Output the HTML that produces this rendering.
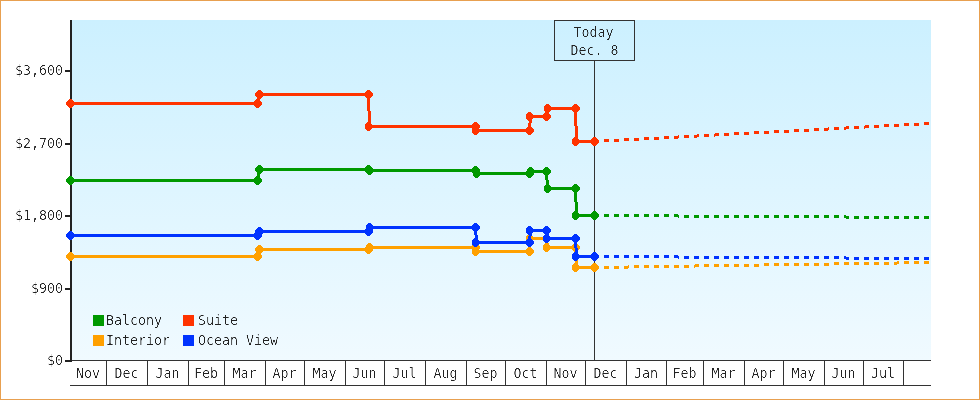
<!DOCTYPE html>
<html><head><meta charset="utf-8"><title>Price history</title>
<style>
html,body{margin:0;padding:0;background:#fff;}
body{width:980px;height:400px;overflow:hidden;}
svg{display:block;}
text{font-family:'DejaVu Sans Mono','Liberation Mono',monospace;font-size:13.3px;fill:#222;}
</style></head><body>
<svg width="980" height="400" viewBox="0 0 980 400">
<defs><filter id="crisp" color-interpolation-filters="sRGB"><feComponentTransfer><feFuncA type="linear" slope="2.5" intercept="-1.1"/></feComponentTransfer></filter><linearGradient id="bg" x1="0" y1="0" x2="0" y2="1"><stop offset="0" stop-color="#CCF0FF"/><stop offset="1" stop-color="#F0FAFF"/></linearGradient></defs>
<rect x="0" y="0" width="980" height="400" fill="#fff"/>
<rect x="0.5" y="0.5" width="979" height="399" fill="none" stroke="#E8A050" stroke-width="1"/>
<rect x="72" y="20" width="859" height="340" fill="url(#bg)"/>

<g stroke="#333" stroke-width="1" shape-rendering="crispEdges">
<line x1="70" y1="360.5" x2="931" y2="360.5"/>
<line x1="70" y1="385.5" x2="931" y2="385.5"/>
<line x1="106.5" y1="360" x2="106.5" y2="386"/>
<line x1="147.5" y1="360" x2="147.5" y2="386"/>
<line x1="188.5" y1="360" x2="188.5" y2="386"/>
<line x1="224.5" y1="360" x2="224.5" y2="386"/>
<line x1="265.5" y1="360" x2="265.5" y2="386"/>
<line x1="304.5" y1="360" x2="304.5" y2="386"/>
<line x1="345.5" y1="360" x2="345.5" y2="386"/>
<line x1="384.5" y1="360" x2="384.5" y2="386"/>
<line x1="425.5" y1="360" x2="425.5" y2="386"/>
<line x1="466.5" y1="360" x2="466.5" y2="386"/>
<line x1="505.5" y1="360" x2="505.5" y2="386"/>
<line x1="546.5" y1="360" x2="546.5" y2="386"/>
<line x1="585.5" y1="360" x2="585.5" y2="386"/>
<line x1="626.5" y1="360" x2="626.5" y2="386"/>
<line x1="666.5" y1="360" x2="666.5" y2="386"/>
<line x1="703.5" y1="360" x2="703.5" y2="386"/>
<line x1="744.5" y1="360" x2="744.5" y2="386"/>
<line x1="783.5" y1="360" x2="783.5" y2="386"/>
<line x1="824.5" y1="360" x2="824.5" y2="386"/>
<line x1="863.5" y1="360" x2="863.5" y2="386"/>
<line x1="903.5" y1="360" x2="903.5" y2="386"/>
</g>
<g fill="#222" shape-rendering="crispEdges">
<rect x="70" y="20" width="2" height="342"/>
<rect x="65" y="70" width="6" height="2"/>
<rect x="65" y="143" width="6" height="2"/>
<rect x="65" y="215" width="6" height="2"/>
<rect x="65" y="288" width="6" height="2"/>
<rect x="65" y="360" width="6" height="2"/>
</g>
<g shape-rendering="crispEdges"><line x1="594.5" y1="60" x2="594.5" y2="360" stroke="#333" stroke-width="1"/>
<rect x="554.5" y="20.5" width="80" height="40" fill="none" stroke="#333" stroke-width="1"/></g>
<path fill="#FFA000" shape-rendering="crispEdges" d="M594 266h5v3h-5zM604 266h5v3h-5zM614 266h5v3h-5zM624 266h4v3h-4zM628 265h1v3h-1zM634 265h5v3h-5zM644 265h5v3h-5zM654 265h5v3h-5zM664 265h5v3h-5zM674 265h5v3h-5zM684 265h5v3h-5zM694 265h1v3h-1zM695 264h4v3h-4zM704 264h5v3h-5zM714 264h5v3h-5zM724 264h5v3h-5zM734 264h5v3h-5zM744 264h5v3h-5zM754 264h5v3h-5zM764 263h5v3h-5zM774 263h5v3h-5zM784 263h5v3h-5zM794 263h5v3h-5zM804 263h5v3h-5zM814 263h5v3h-5zM824 263h5v3h-5zM834 262h5v3h-5zM844 262h5v3h-5zM854 262h5v3h-5zM864 262h5v3h-5zM874 262h5v3h-5zM884 262h5v3h-5zM894 262h3v3h-3zM897 261h2v3h-2zM904 261h5v3h-5zM914 261h5v3h-5zM924 261h5v3h-5z"/>
<polyline points="70.5,256.5 257.5,256.5 259.5,249.5 368.5,249.5 369.5,247.5 475.5,247.5 476.5,251.5 529.5,251.5 530.5,238.5 546.5,238.5 547.5,247.5 575.5,247.5 576.5,267.5 594.5,267.5" fill="none" stroke="#FFA000" stroke-width="3" stroke-linejoin="miter" shape-rendering="crispEdges"/>
<path fill="#FFA000" shape-rendering="crispEdges" d="M69 252H72V253H73V254H74V255H74V258H74V259H73V260H72V261H69V260H68V259H67V258H66V255H67V254H68V253H69ZM256 252H259V253H260V254H261V255H262V258H261V259H260V260H259V261H256V260H255V259H254V258H254V255H254V254H255V253H256ZM258 245H261V246H262V247H263V248H263V251H263V252H262V253H261V254H258V253H257V252H256V251H255V248H256V247H257V246H258ZM367 245H370V246H371V247H372V248H373V251H372V252H371V253H370V254H367V253H366V252H365V251H365V248H365V247H366V246H367ZM368 243H371V244H372V245H373V246H374V249H373V250H372V251H371V252H368V251H367V250H366V249H366V246H366V245H367V244H368ZM474 243H477V244H478V245H479V246H480V249H479V250H478V251H477V252H474V251H473V250H472V249H472V246H472V245H473V244H474ZM474 247H477V248H478V249H479V250H480V253H479V254H478V255H477V256H474V255H473V254H472V253H472V250H472V249H473V248H474ZM528 247H531V248H532V249H533V250H534V253H533V254H532V255H531V256H528V255H527V254H526V253H526V250H526V249H527V248H528ZM528 234H531V235H532V236H533V237H534V240H533V241H532V242H531V243H528V242H527V241H526V240H526V237H526V236H527V235H528ZM545 234H548V235H549V236H550V237H551V240H550V241H549V242H548V243H545V242H544V241H543V240H543V237H543V236H544V235H545ZM545 243H548V244H549V245H550V246H551V249H550V250H549V251H548V252H545V251H544V250H543V249H543V246H543V245H544V244H545ZM574 243H577V244H578V245H579V246H580V249H579V250H578V251H577V252H574V251H573V250H572V249H572V246H572V245H573V244H574ZM574 263H577V264H578V265H579V266H580V269H579V270H578V271H577V272H574V271H573V270H572V269H572V266H572V265H573V264H574ZM593 263H596V264H597V265H598V266H599V269H598V270H597V271H596V272H593V271H592V270H591V269H591V266H591V265H592V264H593Z"/>
<path fill="#0033FF" shape-rendering="crispEdges" d="M594 255h5v3h-5zM604 255h5v3h-5zM614 255h5v3h-5zM624 255h5v3h-5zM634 255h5v3h-5zM644 255h5v3h-5zM654 255h5v3h-5zM664 255h5v3h-5zM674 255h4v3h-4zM678 256h1v3h-1zM684 256h5v3h-5zM694 256h5v3h-5zM704 256h5v3h-5zM714 256h5v3h-5zM724 256h5v3h-5zM734 256h5v3h-5zM744 256h5v3h-5zM754 256h5v3h-5zM764 256h5v3h-5zM774 256h5v3h-5zM784 256h5v3h-5zM794 256h5v3h-5zM804 256h5v3h-5zM814 256h5v3h-5zM824 256h5v3h-5zM834 256h5v3h-5zM844 256h2v3h-2zM846 257h3v3h-3zM854 257h5v3h-5zM864 257h5v3h-5zM874 257h5v3h-5zM884 257h5v3h-5zM894 257h5v3h-5zM904 257h5v3h-5zM914 257h5v3h-5zM924 257h5v3h-5z"/>
<polyline points="70.5,235.5 257.5,235.5 259.5,231.5 368.5,231.5 369.5,227.5 475.5,227.5 476.5,242.5 529.5,242.5 530.5,230.5 546.5,230.5 547.5,238.5 575.5,238.5 576.5,256.5 594.5,256.5" fill="none" stroke="#0033FF" stroke-width="3" stroke-linejoin="miter" shape-rendering="crispEdges"/>
<path fill="#0033FF" shape-rendering="crispEdges" d="M69 231H72V232H73V233H74V234H74V237H74V238H73V239H72V240H69V239H68V238H67V237H66V234H67V233H68V232H69ZM256 231H259V232H260V233H261V234H262V237H261V238H260V239H259V240H256V239H255V238H254V237H254V234H254V233H255V232H256ZM258 227H261V228H262V229H263V230H263V233H263V234H262V235H261V236H258V235H257V234H256V233H255V230H256V229H257V228H258ZM367 227H370V228H371V229H372V230H373V233H372V234H371V235H370V236H367V235H366V234H365V233H365V230H365V229H366V228H367ZM368 223H371V224H372V225H373V226H374V229H373V230H372V231H371V232H368V231H367V230H366V229H366V226H366V225H367V224H368ZM474 223H477V224H478V225H479V226H480V229H479V230H478V231H477V232H474V231H473V230H472V229H472V226H472V225H473V224H474ZM474 238H477V239H478V240H479V241H480V244H479V245H478V246H477V247H474V246H473V245H472V244H472V241H472V240H473V239H474ZM528 238H531V239H532V240H533V241H534V244H533V245H532V246H531V247H528V246H527V245H526V244H526V241H526V240H527V239H528ZM528 226H531V227H532V228H533V229H534V232H533V233H532V234H531V235H528V234H527V233H526V232H526V229H526V228H527V227H528ZM545 226H548V227H549V228H550V229H551V232H550V233H549V234H548V235H545V234H544V233H543V232H543V229H543V228H544V227H545ZM545 234H548V235H549V236H550V237H551V240H550V241H549V242H548V243H545V242H544V241H543V240H543V237H543V236H544V235H545ZM574 234H577V235H578V236H579V237H580V240H579V241H578V242H577V243H574V242H573V241H572V240H572V237H572V236H573V235H574ZM574 252H577V253H578V254H579V255H580V258H579V259H578V260H577V261H574V260H573V259H572V258H572V255H572V254H573V253H574ZM593 252H596V253H597V254H598V255H599V258H598V259H597V260H596V261H593V260H592V259H591V258H591V255H591V254H592V253H593Z"/>
<path fill="#009900" shape-rendering="crispEdges" d="M594 214h5v3h-5zM604 214h5v3h-5zM614 214h5v3h-5zM624 214h5v3h-5zM634 214h5v3h-5zM644 214h5v3h-5zM654 214h5v3h-5zM664 214h5v3h-5zM674 214h4v3h-4zM678 215h1v3h-1zM684 215h5v3h-5zM694 215h5v3h-5zM704 215h5v3h-5zM714 215h5v3h-5zM724 215h5v3h-5zM734 215h5v3h-5zM744 215h5v3h-5zM754 215h5v3h-5zM764 215h5v3h-5zM774 215h5v3h-5zM784 215h5v3h-5zM794 215h5v3h-5zM804 215h5v3h-5zM814 215h5v3h-5zM824 215h5v3h-5zM834 215h5v3h-5zM844 215h2v3h-2zM846 216h3v3h-3zM854 216h5v3h-5zM864 216h5v3h-5zM874 216h5v3h-5zM884 216h5v3h-5zM894 216h5v3h-5zM904 216h5v3h-5zM914 216h5v3h-5zM924 216h5v3h-5z"/>
<polyline points="70.5,180.5 257.5,180.5 259.5,169.5 368.5,169.5 369.5,170.5 475.5,170.5 476.5,173.5 529.5,173.5 530.5,171.5 546.5,171.5 547.5,188.5 575.5,188.5 576.5,215.5 594.5,215.5" fill="none" stroke="#009900" stroke-width="3" stroke-linejoin="miter" shape-rendering="crispEdges"/>
<path fill="#009900" shape-rendering="crispEdges" d="M69 176H72V177H73V178H74V179H74V182H74V183H73V184H72V185H69V184H68V183H67V182H66V179H67V178H68V177H69ZM256 176H259V177H260V178H261V179H262V182H261V183H260V184H259V185H256V184H255V183H254V182H254V179H254V178H255V177H256ZM258 165H261V166H262V167H263V168H263V171H263V172H262V173H261V174H258V173H257V172H256V171H255V168H256V167H257V166H258ZM367 165H370V166H371V167H372V168H373V171H372V172H371V173H370V174H367V173H366V172H365V171H365V168H365V167H366V166H367ZM368 166H371V167H372V168H373V169H374V172H373V173H372V174H371V175H368V174H367V173H366V172H366V169H366V168H367V167H368ZM474 166H477V167H478V168H479V169H480V172H479V173H478V174H477V175H474V174H473V173H472V172H472V169H472V168H473V167H474ZM475 169H478V170H479V171H480V172H481V175H480V176H479V177H478V178H475V177H474V176H473V175H473V172H473V171H474V170H475ZM528 169H531V170H532V171H533V172H534V175H533V176H532V177H531V178H528V177H527V176H526V175H526V172H526V171H527V170H528ZM529 167H532V168H533V169H534V170H535V173H534V174H533V175H532V176H529V175H528V174H527V173H527V170H527V169H528V168H529ZM545 167H548V168H549V169H550V170H551V173H550V174H549V175H548V176H545V175H544V174H543V173H543V170H543V169H544V168H545ZM546 184H549V185H550V186H551V187H552V190H551V191H550V192H549V193H546V192H545V191H544V190H544V187H544V186H545V185H546ZM574 184H577V185H578V186H579V187H580V190H579V191H578V192H577V193H574V192H573V191H572V190H572V187H572V186H573V185H574ZM574 211H577V212H578V213H579V214H580V217H579V218H578V219H577V220H574V219H573V218H572V217H572V214H572V213H573V212H574ZM593 211H596V212H597V213H598V214H599V217H598V218H597V219H596V220H593V219H592V218H591V217H591V214H591V213H592V212H593Z"/>
<path fill="#FF3300" shape-rendering="crispEdges" d="M594 140h5v3h-5zM604 139h5v3h-5zM614 139h5v3h-5zM624 138h5v3h-5zM634 138h5v3h-5zM644 137h5v3h-5zM654 137h5v3h-5zM664 136h5v3h-5zM674 136h4v3h-4zM678 135h1v3h-1zM684 135h5v3h-5zM694 135h3v3h-3zM697 134h2v3h-2zM704 134h5v3h-5zM714 134h1v3h-1zM715 133h4v3h-4zM724 133h5v3h-5zM734 132h5v3h-5zM744 132h5v3h-5zM754 131h5v3h-5zM764 131h5v3h-5zM774 130h5v3h-5zM784 130h5v3h-5zM794 129h5v3h-5zM804 129h5v3h-5zM814 128h5v3h-5zM824 128h4v3h-4zM828 127h1v3h-1zM834 127h5v3h-5zM844 127h2v3h-2zM846 126h3v3h-3zM854 126h5v3h-5zM864 126h1v3h-1zM865 125h4v3h-4zM874 125h5v3h-5zM884 124h5v3h-5zM894 124h5v3h-5zM904 123h5v3h-5zM914 123h5v3h-5zM924 122h5v3h-5z"/>
<polyline points="70.5,103.5 257.5,103.5 259.5,94.5 368.5,94.5 369.5,126.5 475.5,126.5 476.5,130.5 529.5,130.5 530.5,116.5 546.5,116.5 547.5,108.5 575.5,108.5 576.5,141.5 594.5,141.5" fill="none" stroke="#FF3300" stroke-width="3" stroke-linejoin="miter" shape-rendering="crispEdges"/>
<path fill="#FF3300" shape-rendering="crispEdges" d="M69 99H72V100H73V101H74V102H74V105H74V106H73V107H72V108H69V107H68V106H67V105H66V102H67V101H68V100H69ZM256 99H259V100H260V101H261V102H262V105H261V106H260V107H259V108H256V107H255V106H254V105H254V102H254V101H255V100H256ZM258 90H261V91H262V92H263V93H263V96H263V97H262V98H261V99H258V98H257V97H256V96H255V93H256V92H257V91H258ZM367 90H370V91H371V92H372V93H373V96H372V97H371V98H370V99H367V98H366V97H365V96H365V93H365V92H366V91H367ZM367 122H370V123H371V124H372V125H373V128H372V129H371V130H370V131H367V130H366V129H365V128H365V125H365V124H366V123H367ZM474 122H477V123H478V124H479V125H480V128H479V129H478V130H477V131H474V130H473V129H472V128H472V125H472V124H473V123H474ZM474 126H477V127H478V128H479V129H480V132H479V133H478V134H477V135H474V134H473V133H472V132H472V129H472V128H473V127H474ZM528 126H531V127H532V128H533V129H534V132H533V133H532V134H531V135H528V134H527V133H526V132H526V129H526V128H527V127H528ZM528 112H531V113H532V114H533V115H534V118H533V119H532V120H531V121H528V120H527V119H526V118H526V115H526V114H527V113H528ZM545 112H548V113H549V114H550V115H551V118H550V119H549V120H548V121H545V120H544V119H543V118H543V115H543V114H544V113H545ZM546 104H549V105H550V106H551V107H552V110H551V111H550V112H549V113H546V112H545V111H544V110H544V107H544V106H545V105H546ZM574 104H577V105H578V106H579V107H580V110H579V111H578V112H577V113H574V112H573V111H572V110H572V107H572V106H573V105H574ZM574 137H577V138H578V139H579V140H580V143H579V144H578V145H577V146H574V145H573V144H572V143H572V140H572V139H573V138H574ZM593 137H596V138H597V139H598V140H599V143H598V144H597V145H596V146H593V145H592V144H591V143H591V140H591V139H592V138H593Z"/>
<rect x="93" y="315" width="11" height="11" fill="#009900"/>
<rect x="183" y="315" width="11" height="11" fill="#FF3300"/>
<rect x="93" y="335" width="11" height="11" fill="#FFA000"/>
<rect x="183" y="335" width="11" height="11" fill="#0033FF"/>
<g filter="url(#crisp)"><text x="88" y="378" text-anchor="middle">Nov</text><text x="126.5" y="378" text-anchor="middle">Dec</text><text x="167.5" y="378" text-anchor="middle">Jan</text><text x="206" y="378" text-anchor="middle">Feb</text><text x="244.5" y="378" text-anchor="middle">Mar</text><text x="284.5" y="378" text-anchor="middle">Apr</text><text x="324.5" y="378" text-anchor="middle">May</text><text x="364.5" y="378" text-anchor="middle">Jun</text><text x="404.5" y="378" text-anchor="middle">Jul</text><text x="445.5" y="378" text-anchor="middle">Aug</text><text x="485.5" y="378" text-anchor="middle">Sep</text><text x="525.5" y="378" text-anchor="middle">Oct</text><text x="565.5" y="378" text-anchor="middle">Nov</text><text x="605.5" y="378" text-anchor="middle">Dec</text><text x="646" y="378" text-anchor="middle">Jan</text><text x="684.5" y="378" text-anchor="middle">Feb</text><text x="723.5" y="378" text-anchor="middle">Mar</text><text x="763.5" y="378" text-anchor="middle">Apr</text><text x="803.5" y="378" text-anchor="middle">May</text><text x="843.5" y="378" text-anchor="middle">Jun</text><text x="883" y="378" text-anchor="middle">Jul</text><text x="63" y="75" text-anchor="end">$3,600</text><text x="63" y="148" text-anchor="end">$2,700</text><text x="63" y="220" text-anchor="end">$1,800</text><text x="63" y="293" text-anchor="end">$900</text><text x="63" y="365" text-anchor="end">$0</text><text x="593.5" y="37" text-anchor="middle">Today</text><text x="594.5" y="55" text-anchor="middle">Dec. 8</text><text x="106" y="325">Balcony</text><text x="198" y="325">Suite</text><text x="106" y="345">Interior</text><text x="198" y="345">Ocean View</text></g>
</svg></body></html>
